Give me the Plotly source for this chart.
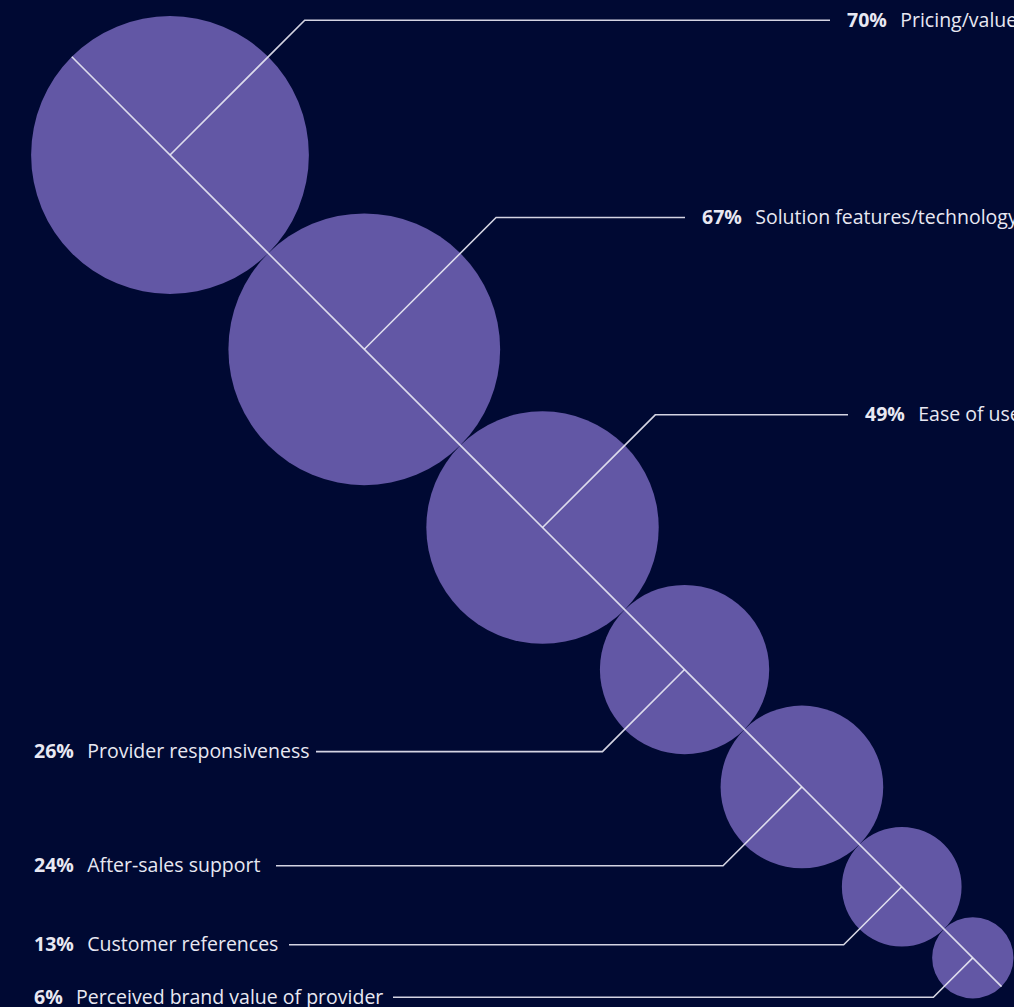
import math
import plotly.graph_objects as go

# ---- data ----
categories = ["Pricing/value", "Solution features/technology", "Ease of use",
              "Provider responsiveness", "After-sales support",
              "Customer references", "Perceived brand value of provider"]
values = [70, 67, 49, 26, 24, 13, 6]

# ---- layout / style parameters ----
W, H = 1014, 1007
BG = "#000933"
CIRCLE = "#6257A5"
LINE = "rgba(235,235,245,0.9)"
K = 16.6                      # px radius per sqrt(percent)  (area ∝ value)
start = (170, 155)            # centre of first circle
side = ["up", "up", "up", "down", "down", "down", "down"]
label_x = [845, 700, 863, 32, 32, 32, 32]           # text anchor x
leader_end_x = [830, 685, 848, 316, 276, 289, 393]  # end of horizontal leader
FONT = "Open Sans"
FS = 19.5

radii = [K * math.sqrt(v) for v in values]
u = 1 / math.sqrt(2)
centers = [start]
for i in range(1, len(values)):
    d = (radii[i - 1] + radii[i]) * u
    px, py = centers[-1]
    centers.append((px + d, py + d))

fig = go.Figure()
shapes = []
for (cx, cy), r in zip(centers, radii):
    shapes.append(dict(type="circle", xref="x", yref="y",
                       x0=cx - r, x1=cx + r, y0=cy - r, y1=cy + r,
                       fillcolor=CIRCLE, line=dict(width=0), layer="below"))

# diagonal through all centres, from edge of first to edge of last
x0 = centers[0][0] - radii[0] * u
y0 = centers[0][1] - radii[0] * u
x1 = centers[-1][0] + radii[-1] * u
y1 = centers[-1][1] + radii[-1] * u
fig.add_trace(go.Scatter(x=[x0, x1], y=[y0, y1], mode="lines",
                         line=dict(color=LINE, width=1.6), hoverinfo="skip"))

annotations = []
for i, ((cx, cy), r) in enumerate(zip(centers, radii)):
    d = r * 0.97
    if side[i] == "up":
        ex, ey = cx + d, cy - d
    else:
        ex, ey = cx - d, cy + d
    fig.add_trace(go.Scatter(x=[cx, ex, leader_end_x[i]], y=[cy, ey, ey],
                             mode="lines", line=dict(color=LINE, width=1.6),
                             hoverinfo="skip"))
    annotations.append(dict(
        x=label_x[i], y=ey, xref="x", yref="y", xanchor="left", yanchor="middle",
        showarrow=False, yshift=1,
        text=f"<b>{values[i]}%</b>  \u2009{categories[i]}",
        font=dict(family=FONT, size=FS, color="#E8E8F2")))

fig.update_layout(
    width=W, height=H, margin=dict(l=0, r=0, t=0, b=0),
    paper_bgcolor=BG, plot_bgcolor=BG, showlegend=False,
    shapes=shapes, annotations=annotations,
    xaxis=dict(range=[0, W], visible=False, fixedrange=True),
    yaxis=dict(range=[H, 0], visible=False, fixedrange=True),
)
fig.write_html("out.html", config={"displayModeBar": False},
               post_script="document.body.style.margin='0';")
